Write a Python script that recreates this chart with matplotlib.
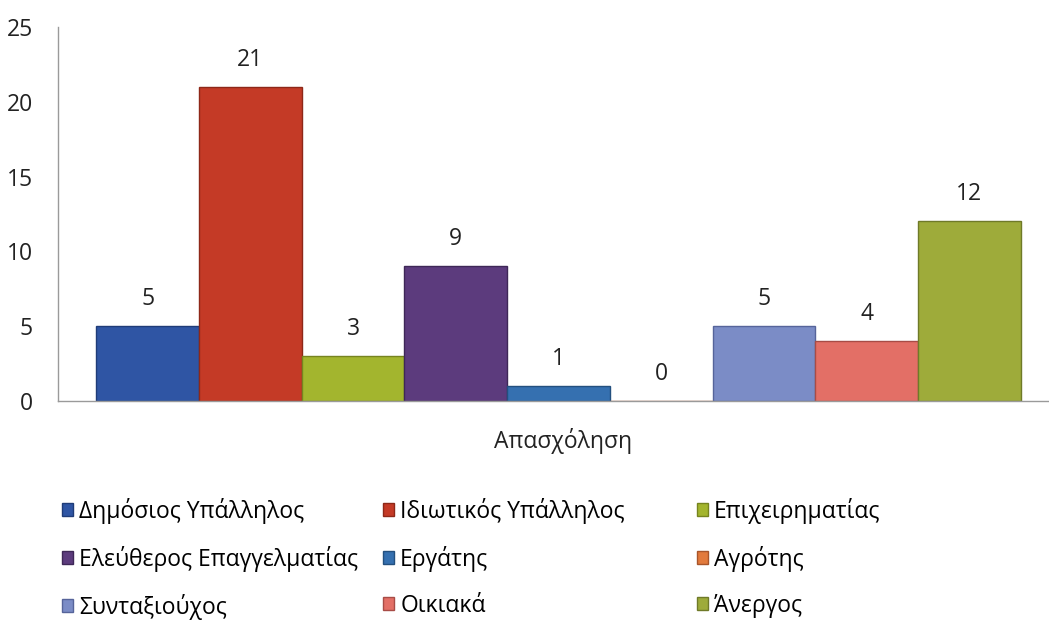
import matplotlib
matplotlib.use("Agg")
import matplotlib.pyplot as plt
from matplotlib.patches import Patch

categories = ["Δημόσιος Υπάλληλος", "Ιδιωτικός Υπάλληλος", "Επιχειρηματίας",
              "Ελεύθερος Επαγγελματίας", "Εργάτης", "Αγρότης",
              "Συνταξιούχος", "Οικιακά", "Άνεργος"]
values = [5, 21, 3, 9, 1, 0, 5, 4, 12]
colors = ["#2f55a4", "#c43a26", "#a3b52e", "#5c3b7d", "#3570b0",
          "#e27a3c", "#7b8cc6", "#e36f66", "#9eab3a"]
edges = ["#1f3c78", "#8e2818", "#76841f", "#3e2757", "#23507f",
         "#a8552a", "#56649a", "#a84c46", "#6f7a28"]

plt.rcParams["font.family"] = ["Open Sans", "DejaVu Sans"]
FS = 16.5

fig = plt.figure(figsize=(10.49, 6.22), dpi=100)
ax = fig.add_axes([58 / 1049, 221 / 622, 1 - 58 / 1049, 374 / 622])

xs = list(range(len(values)))
bars = ax.bar(xs, values, width=1.0, color=colors, edgecolor=edges, linewidth=1.0)
for x, v in zip(xs, values):
    ax.annotate(str(v), (x, v), xytext=(0, 19.5), textcoords="offset points",
                ha="center", va="center", fontsize=FS, color="#222222")

ax.set_ylim(0, 25)
ax.set_xlim(-0.5 - 38 / 102, 8.5 + 28 / 102)
ax.set_yticks([0, 5, 10, 15, 20, 25])
ax.tick_params(axis="y", length=0, pad=18, labelsize=FS, colors="#222222")
ax.set_xticks([])
for s in ["top", "right"]:
    ax.spines[s].set_visible(False)
for s in ["left", "bottom"]:
    ax.spines[s].set_color("#9a9a9a")
    ax.spines[s].set_linewidth(1.0)

fig.text(563 / 1049, 1 - 441 / 622, "Απασχόληση", ha="center", va="center",
         fontsize=FS, color="#222222")

handles = [Patch(facecolor=c, edgecolor=e, label=l) for c, e, l in zip(colors, edges, categories)]
col_x = [62, 383, 697]
for k in range(3):
    hs = [handles[k], handles[k + 3], handles[k + 6]]
    fig.legend(handles=hs, loc="upper left",
               bbox_to_anchor=(col_x[k] / 1049, 1 - 498 / 622),
               frameon=False, fontsize=FS, handlelength=0.5, handleheight=0.5,
               handletextpad=0.25, labelspacing=0.95, borderpad=0, borderaxespad=0)

fig.savefig("out.png", dpi=100)
